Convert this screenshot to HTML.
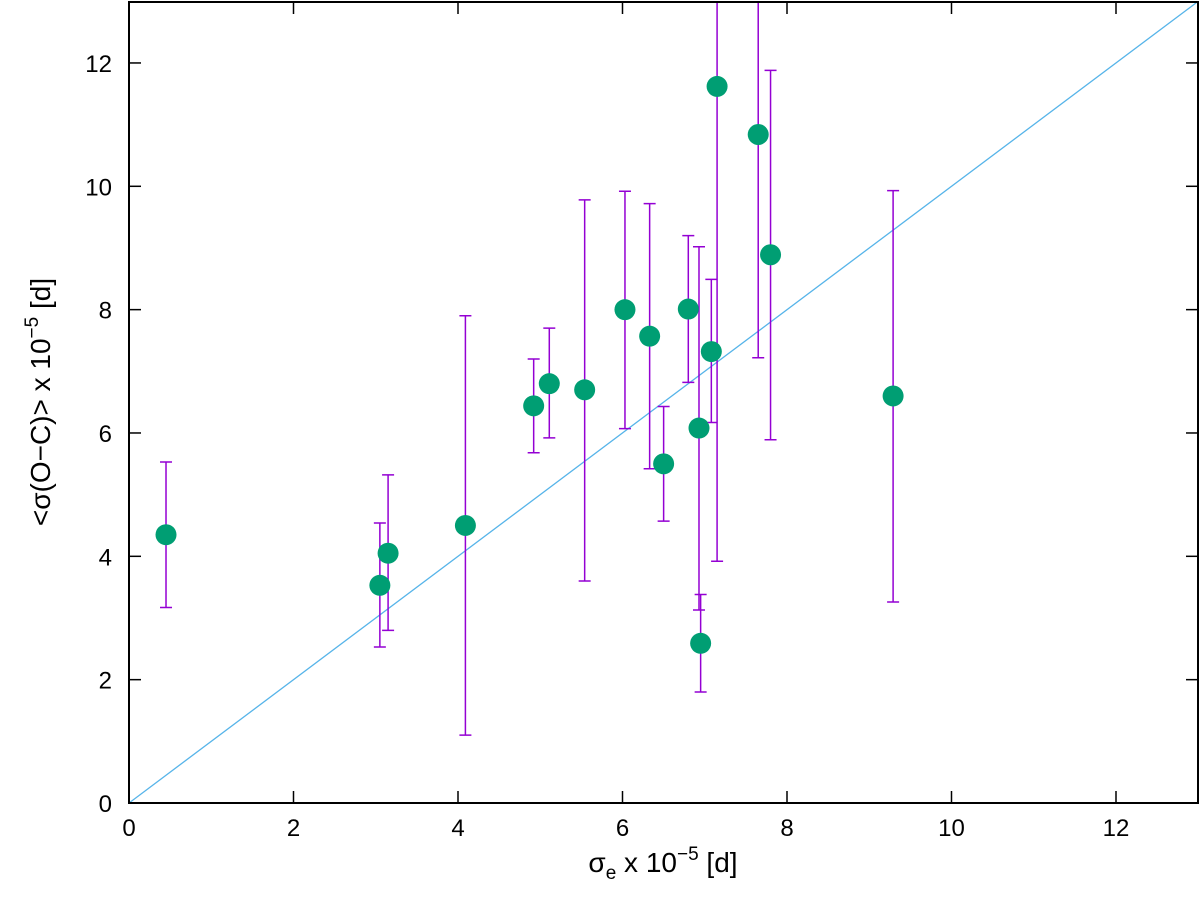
<!DOCTYPE html>
<html><head><meta charset="utf-8"><style>
body{margin:0;background:#fff;}
svg{display:block;font-family:"Liberation Sans",sans-serif;}
</style></head><body>
<svg id="chart" width="1200" height="909">
<defs><clipPath id="pc"><rect x="129" y="2" width="1069" height="801"/></clipPath></defs>
<g id="grid"></g>
<g id="marks" clip-path="url(#pc)"></g>
<rect x="129" y="2" width="1069" height="801" fill="none" stroke="#000" stroke-width="2"/>
<text x="663" y="872" font-size="28" text-anchor="middle">σ<tspan font-size="19" dy="7">e</tspan><tspan dy="-7"> x 10</tspan><tspan font-size="19" dy="-12">−5</tspan><tspan dy="12"> [d]</tspan></text>
<text transform="translate(50,402) rotate(-90)" font-size="28" text-anchor="middle">&lt;σ(O−C)&gt; x 10<tspan font-size="19" dy="-12">−5</tspan><tspan dy="12"> [d]</tspan></text>
</svg>
<script>
const xs=[0.45,3.05,3.15,4.09,4.92,5.11,5.54,6.03,6.33,6.5,6.8,6.93,6.95,7.08,7.15,7.65,7.8,9.29];
const ys=[4.35,3.53,4.05,4.5,6.44,6.8,6.7,8.0,7.57,5.5,8.01,6.08,2.59,7.32,11.62,10.84,8.89,6.6];
const yHi=[5.53,4.54,5.32,7.9,7.2,7.7,9.78,9.92,9.72,6.43,9.2,9.02,3.38,8.49,14,14,11.88,9.93];
const yLo=[3.17,2.53,2.8,1.1,5.68,5.92,3.6,6.07,5.42,4.57,6.82,3.13,1.8,6.17,3.92,7.22,5.89,3.26];
const ticks=[0,2,4,6,8,10,12];
const X=v=>129+v*82.25, Y=v=>803-v*61.67;
const NS="http://www.w3.org/2000/svg";
function mk(t,a,p){const e=document.createElementNS(NS,t);for(const k in a)e.setAttribute(k,a[k]);p.appendChild(e);return e;}
const g=document.getElementById('grid'), m=document.getElementById('marks');
ticks.forEach(t=>{
 let e=mk('line',{x1:X(t),x2:X(t),y1:803,y2:791,stroke:'#000','stroke-width':1.5},g);
 
 e=mk('line',{x1:X(t),x2:X(t),y1:2,y2:14,stroke:'#000','stroke-width':1.5},g);
 
 e=mk('text',{x:X(t),y:836,'font-size':24,'text-anchor':'middle'},g);e.textContent=t;
 
 e=mk('line',{x1:129,x2:141,y1:Y(t),y2:Y(t),stroke:'#000','stroke-width':1.5},g);
 
 e=mk('line',{x1:1186,x2:1198,y1:Y(t),y2:Y(t),stroke:'#000','stroke-width':1.5},g);
 
 e=mk('text',{x:112,y:Y(t)+9,'font-size':24,'text-anchor':'end'},g);e.textContent=t;
 
});
let l=mk('line',{x1:X(0),y1:Y(0),x2:X(13),y2:Y(13),stroke:'#56b4e9','stroke-width':1.3},m);

xs.forEach((x,i)=>{
 const px=X(x);
 let e=mk('path',{d:`M${px},${Y(yLo[i])}V${Y(yHi[i])}M${px-6},${Y(yLo[i])}H${px+6}M${px-6},${Y(yHi[i])}H${px+6}`,stroke:'#9400d3','stroke-width':1.5,fill:'none'},m);
 
});
xs.forEach((x,i)=>{
 let e=mk('circle',{cx:X(x),cy:Y(ys[i]),r:10.5,fill:'#009e73'},m);
 
});
</script>
</body></html>
